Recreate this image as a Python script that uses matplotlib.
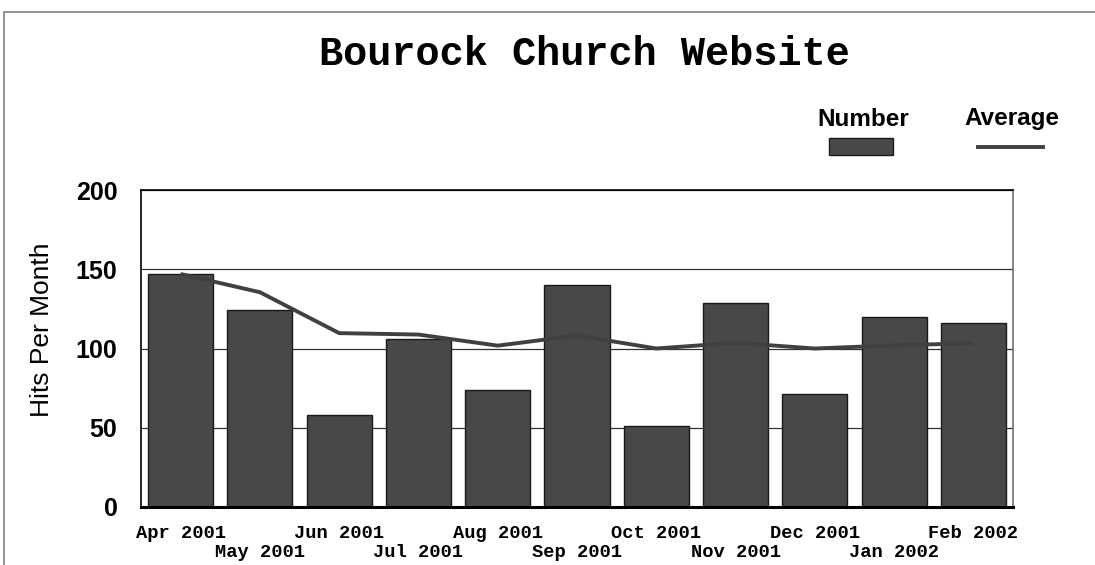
import matplotlib
matplotlib.use("Agg")
import matplotlib.pyplot as plt
from matplotlib.patches import Rectangle
from matplotlib.lines import Line2D
import numpy as np

months = ["Apr 2001", "May 2001", "Jun 2001", "Jul 2001", "Aug 2001", "Sep 2001",
          "Oct 2001", "Nov 2001", "Dec 2001", "Jan 2002", "Feb 2002"]
number = [147, 124, 58, 106, 74, 140, 51, 129, 71, 120, 116]
average = [147, 135.5, 109.7, 108.8, 101.8, 108.2, 100, 103.6, 100, 102, 103.3]
yticks = [0, 50, 100, 150, 200]

fig = plt.figure(figsize=(10.95, 5.65), dpi=100)
fig.patch.set_facecolor("white")

# outer frame
fig.patches.append(Rectangle((4/1095, -0.05), 1.2, 1 - 12/565 + 0.05, transform=fig.transFigure,
                             fill=False, edgecolor="#808080", linewidth=1.2))

ax = fig.add_axes([141/1095, 1 - 507/565, (1013-141)/1095, (507-190)/565])
x = np.arange(len(months))
ax.bar(x, number, width=0.82, color="#484848", edgecolor="#1a1a1a", linewidth=1.0, zorder=2)
ax.plot(x, average, color="#404040", linewidth=2.8, zorder=3, solid_capstyle="butt")

ax.set_xlim(-0.5, len(months) - 0.5)
ax.set_ylim(0, 200)
ax.set_yticks(yticks)
ax.set_yticklabels([str(v) for v in yticks], fontsize=18, fontweight="bold",
                   family="Liberation Sans")
ax.tick_params(axis="y", length=0, pad=17)
ax.yaxis.grid(True, color="#333333", linewidth=0.9, zorder=0)
ax.set_axisbelow(True)

ax.set_xticks(x)
ax.set_xticklabels([])
ax.tick_params(axis="x", length=0)
for i, m in enumerate(months):
    yoff = -0.056 if i % 2 == 0 else -0.116
    ax.text(i, yoff, m, transform=ax.get_xaxis_transform(), ha="center", va="top",
            fontsize=13.5, fontweight="bold", family="Liberation Mono")

for s in ["left", "top"]:
    ax.spines[s].set_color("black")
    ax.spines[s].set_linewidth(1.2)
ax.spines["bottom"].set_color("black")
ax.spines["bottom"].set_linewidth(2.2)
ax.spines["right"].set_color("#707070")
ax.spines["right"].set_linewidth(1.2)

ax.set_ylabel("Hits Per Month", fontsize=19, family="Liberation Sans", va="center")
ax.yaxis.set_label_coords(-99/872, 0.56)

fig.text(584/1095, 1 - 54/565, "Bourock Church Website", ha="center", va="center",
         fontsize=29, fontweight="bold", family="Liberation Mono")

# legend
fig.text(863/1095, 1 - 119/565, "Number", ha="center", va="center", fontsize=17.5,
         fontweight="bold", family="Liberation Sans")
fig.text(1012/1095, 1 - 119/565, "Average", ha="center", va="center", fontsize=17.5,
         fontweight="bold", family="Liberation Sans")
fig.patches.append(Rectangle((829/1095, 1 - 155/565), 64/1095, 17/565, transform=fig.transFigure,
                             facecolor="#484848", edgecolor="#1a1a1a", linewidth=1.0))
fig.lines.append(Line2D([978/1095, 1043/1095], [1 - 147/565, 1 - 147/565], transform=fig.transFigure,
                        color="#404040", linewidth=2.8))

fig.savefig("out.png", dpi=100)
